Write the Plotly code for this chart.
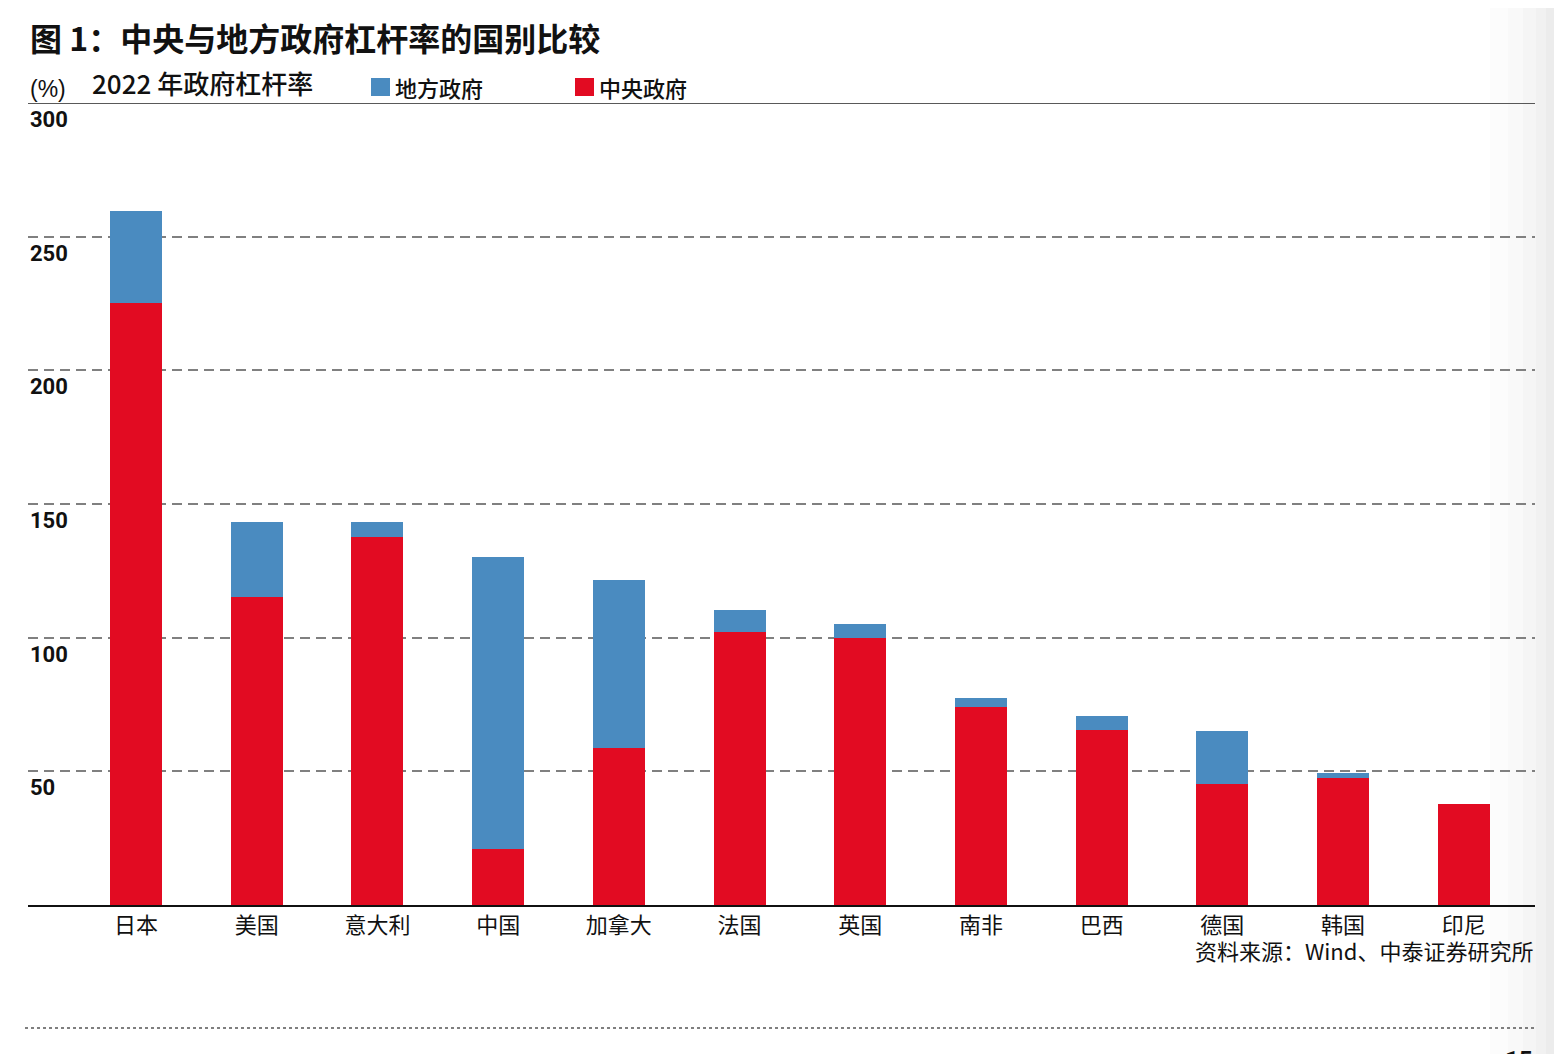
import plotly.graph_objects as go

countries = ["日本", "美国", "意大利", "中国", "加拿大", "法国", "英国", "南非", "巴西", "德国", "韩国", "印尼"]
central = [225.2, 115.2, 137.7, 20.9, 58.7, 102.1, 99.9, 74.1, 65.5, 45.3, 47.5, 37.8]
local = [34.4, 28.1, 5.6, 109.3, 62.9, 8.3, 5.2, 3.3, 5.2, 19.8, 1.9, 0.0]
y_ticks = [50, 100, 150, 200, 250, 300]

RED = "#e20b22"
BLUE = "#4a8bc0"
CJK = "Noto Sans CJK SC"

L, T, PW, PH = 20, 95, 1507, 802  # plot area in figure px


def px_x(v):
    return (v - L) / PW


def px_y(v):
    return 1 - (v - T) / PH


fig = go.Figure()
fig.add_trace(go.Bar(x=list(range(len(countries))), y=central, name="中央政府",
                     marker=dict(color=RED, line=dict(width=0)), width=0.43))
fig.add_trace(go.Bar(x=list(range(len(countries))), y=local, name="地方政府",
                     marker=dict(color=BLUE, line=dict(width=0)), width=0.43))

fig.update_layout(
    barmode="stack",
    width=1562, height=1054,
    margin=dict(l=L, r=1562 - L - PW, t=T, b=1054 - T - PH),
    paper_bgcolor="white", plot_bgcolor="white",
    showlegend=False,
    font=dict(family=CJK, color="#111"),
    xaxis=dict(range=[-0.895, 11.59], tickmode="array",
               tickvals=list(range(len(countries))), ticktext=countries,
               tickfont=dict(size=22, family=CJK, color="#111"),
               showgrid=False, showline=True, linecolor="#111", linewidth=2,
               ticks="", ticklabelstandoff=0, zeroline=False, fixedrange=True),
    yaxis=dict(range=[0, 300], tickvals=y_ticks[:-1], showticklabels=False,
               showgrid=True, gridcolor="#808080", griddash="10px,6px", gridwidth=1.5,
               zeroline=False, showline=False, fixedrange=True),
)

# right-edge page shading
grads = [(1482, "#fcfcfc"), (1500, "#f9f9f9"), (1515, "#f5f5f5"), (1528, "#f1f1f1"),
         (1538, "#ececec"), (1546, "#e6e6e6"), (1551, "#dcdcdc")]
for i, (x0, c) in enumerate(grads):
    fig.add_shape(type="rect", xref="paper", yref="paper", layer="below",
                  x0=px_x(x0), x1=px_x(1560), y0=px_y(-10), y1=px_y(1060),
                  fillcolor=c, line=dict(width=0))

# top solid line at 300
fig.add_shape(type="line", xref="paper", yref="y", x0=0, x1=1, y0=300, y1=300,
              line=dict(color="#222", width=1.5))

# y tick labels drawn below gridlines, left-aligned
for t in y_ticks:
    fig.add_annotation(xref="paper", yref="y", x=0, y=t, text=str(t), showarrow=False,
                       xanchor="left", yanchor="top", yshift=-2,
                       font=dict(size=22, family="Roboto", color="#111", weight="bold"))

# Title
fig.add_annotation(xref="paper", yref="paper", x=0, y=1, xanchor="left", yanchor="bottom",
                   yshift=41, text="<b>图 1：中央与地方政府杠杆率的国别比较</b>", showarrow=False,
                   font=dict(size=32, family=CJK, color="#111"))
fig.add_annotation(xref="paper", yref="paper", x=0, y=1, xanchor="left", yanchor="bottom",
                   yshift=-1, text="(%)", showarrow=False,
                   font=dict(size=23, family="Liberation Sans", color="#111"))
fig.add_annotation(xref="paper", yref="paper", x=px_x(82), y=1, xanchor="left", yanchor="bottom",
                   yshift=0, text="2022 年政府杠杆率", showarrow=False,
                   font=dict(size=26, family=CJK, color="#111", weight=500))

# manual legend
legend_items = [("地方政府", BLUE, 363), ("中央政府", RED, 567)]
for label, color, px in legend_items:
    fig.add_shape(type="rect", xref="paper", yref="paper",
                  x0=px_x(px), x1=px_x(px + 19),
                  y0=px_y(88), y1=px_y(70),
                  fillcolor=color, line=dict(width=0))
    fig.add_annotation(xref="paper", yref="paper", x=px_x(px + 22), y=px_y(79),
                       xanchor="left", yanchor="middle", text=label,
                       showarrow=False, font=dict(size=22, family=CJK, color="#111", weight=500))

# source
fig.add_annotation(xref="paper", yref="paper", x=1, y=0, xanchor="right", yanchor="top",
                   yshift=-27, text="资料来源：Wind、中泰证券研究所", showarrow=False,
                   font=dict(size=22, family=CJK, color="#111"))

# dotted bottom line
fig.add_shape(type="line", xref="paper", yref="paper", x0=px_x(17), x1=1, y0=px_y(1020), y1=px_y(1020),
              line=dict(color="#555", width=1.5, dash="dot"))

# page number, mostly cut off at bottom edge
fig.add_annotation(xref="paper", yref="paper", x=1, y=px_y(1036), xanchor="right", yanchor="top",
                   text="<b>15</b>", showarrow=False,
                   font=dict(size=24, family="Roboto", color="#111"))

fig.write_html("out.html")
